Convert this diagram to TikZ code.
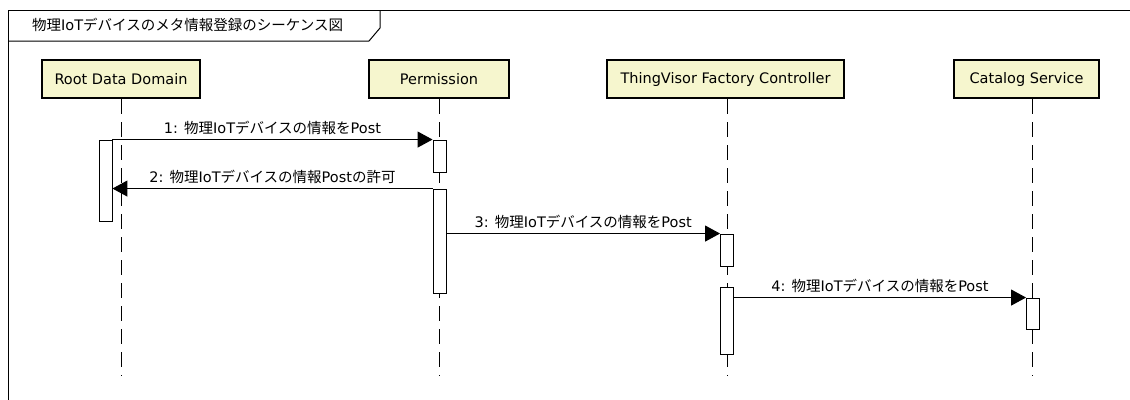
\documentclass[tikz,border=0pt]{standalone}
\usepackage{fontspec}
\setmainfont{DejaVu Sans}
\newfontfamily\jpfont{Noto Sans CJK JP}
\newcommand{\ja}[1]{{\jpfont #1}}
\usepackage{tikz}
\usetikzlibrary{arrows.meta,calc,positioning,backgrounds}
\definecolor{headfill}{RGB}{246,246,206}

\begin{document}
\begin{tikzpicture}[x=1pt,y=-1pt,inner sep=0pt,
                    font=\fontsize{14.5}{16}\selectfont,
                    head/.style={draw,line width=2pt,fill=headfill,minimum height=38pt},
                    act/.style={draw,line width=0.9pt,fill=white,minimum width=13pt},
                    life/.style={line width=0.9pt,dash pattern=on 15pt off 8pt},
                    msg/.style={line width=1.1pt,-{Triangle[length=15pt,width=16pt]}}]
    \useasboundingbox (0,0) rectangle (1130,399);

    % frame with title tab
    \draw [line width=1pt] (8,400) -- (8,10) -- (1131,10);
    \draw [line width=1pt] (8,41) -- (369,41) -- (380,28) -- (380,10);
    \node at (32,25) (title) [anchor=west] {\ja{物理}IoT\ja{デバイスのメタ情報登録のシーケンス図}};

    \node at ( 121.0,79) (rdd) [head,minimum width=158pt] {Root Data Domain};
    \node at ( 439.0,79) (per) [head,minimum width=140pt] {Permission};
    \node at ( 725.5,79) (tvf) [head,minimum width=237pt] {ThingVisor Factory Controller};
    \node at (1026.5,79) (cat) [head,minimum width=145pt] {Catalog Service};

    \coordinate (rddend) at ( 121,376);
    \coordinate (perend) at ( 439,376);
    \coordinate (tvfend) at ( 727,376);
    \coordinate (catend) at (1032,376);
    \draw [life] (rdd.south -| rddend) -- (rddend);
    \draw [life] (per.south -| perend) -- (perend);
    \draw [life] (tvf.south -| tvfend) -- (tvfend);
    \draw [life] (cat.south -| catend) -- (catend);

    \node at ( 105.5,180.5) (r1) [act,minimum height=81pt]  {};
    \node at ( 439.5,156.0) (p1) [act,minimum height=32pt]  {};
    \node at ( 439.5,241.0) (p2) [act,minimum height=104pt] {};
    \node at ( 727.0,250.0) (t1) [act,minimum height=32pt]  {};
    \node at ( 727.0,320.5) (t2) [act,minimum height=67pt]  {};
    \node at (1033.0,313.5) (c1) [act,minimum height=31pt]  {};

    \draw [msg] (r1.north east) -- (p1.north west)
        node [midway,above=4pt] {1: \ja{物理}IoT\ja{デバイスの情報を}Post};
    \draw [msg] (p2.north west) -- (p2.north west -| r1.east)
        node [midway,above=4pt] {2: \ja{物理}IoT\ja{デバイスの情報}Post\ja{の許可}};
    \draw [msg] (t1.north west -| p2.east) -- (t1.north west)
        node [midway,above=4pt] {3: \ja{物理}IoT\ja{デバイスの情報を}Post};
    \draw [msg] (c1.north west -| t2.east) -- (c1.north west)
        node [midway,above=4pt] {4: \ja{物理}IoT\ja{デバイスの情報を}Post};
\end{tikzpicture}
\end{document}
